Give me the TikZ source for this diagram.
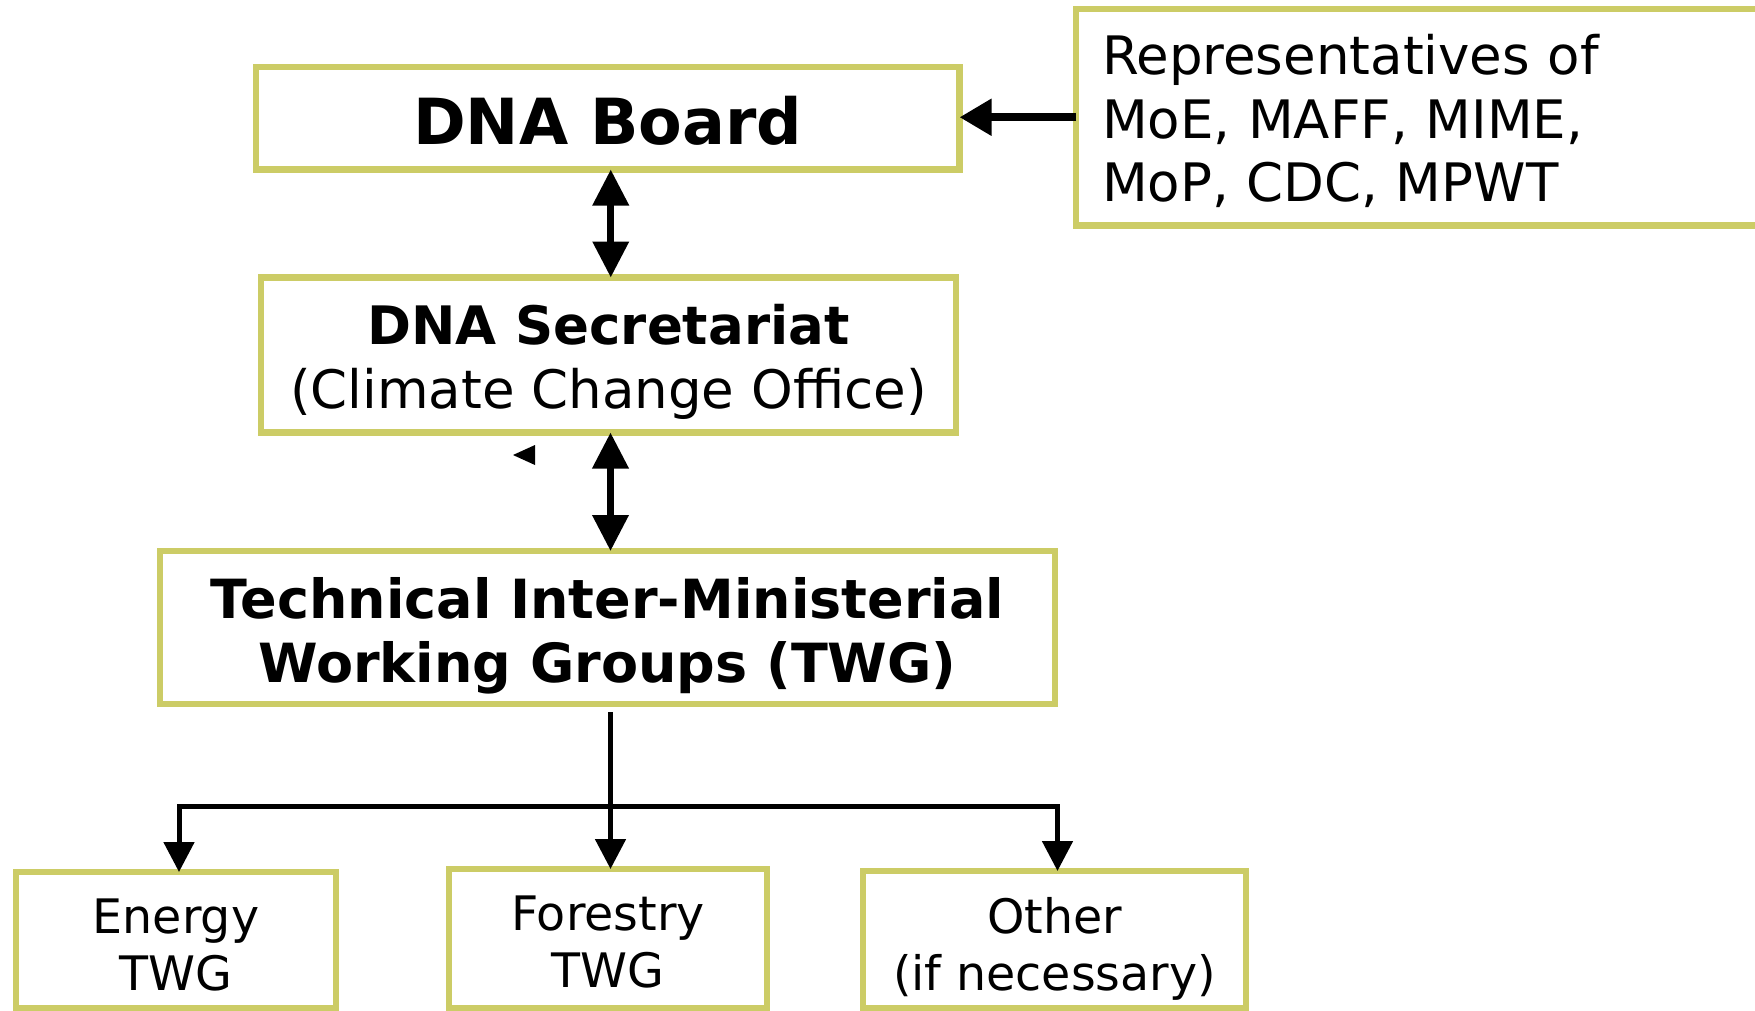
\documentclass[tikz,border=0pt]{standalone}
\usepackage{fontspec}
\setmainfont{DejaVu Sans}
\usepackage{tikz}
\usetikzlibrary{arrows.meta,calc}

\definecolor{boxline}{RGB}{204,204,102}

\tikzset{
  orgbox/.style={draw=boxline, line width=3.25pt, inner sep=0pt, outer sep=0pt, anchor=north west, align=center},
  bigfont/.style={font=\fontsize{31.8}{38}\selectfont\bfseries},
  midfont/.style={font=\fontsize{26.5}{31.75}\selectfont},
  midbold/.style={font=\fontsize{27}{32}\selectfont\bfseries},
  smallfont/.style={font=\fontsize{23.75}{28.5}\selectfont},
  link/.style={line width=3.5pt, {Triangle[width=17.5pt,length=18pt]}-{Triangle[width=17.5pt,length=18pt]}},
  feed/.style={line width=4pt, -{Triangle[width=17.5pt,length=16pt]}},
  branch/.style={line width=2.5pt},
  branchtip/.style={-{Triangle[width=15pt,length=15pt]}},
  branchtips/.style={{Triangle[width=15pt,length=15pt]}-{Triangle[width=15pt,length=15pt]}}
}

\begin{document}
\begin{tikzpicture}[x=0.5pt,y=-0.5pt]
\useasboundingbox (0,0) rectangle (1755,1011);

% boxes
\node[orgbox, bigfont, minimum width=351.75pt, minimum height=51.25pt, text height=26.75pt, text depth=0pt] (board) at (256,67) {DNA Board};
\node[orgbox, midfont, inner xsep=13pt, align=left, text width=340pt, minimum width=366pt, minimum height=108.25pt, text height=20pt, text depth=62.25pt] (reps) at (1076,9) {Representatives of\\MoE, MAFF, MIME,\\MoP, CDC, MPWT};
\node[orgbox, midfont, minimum width=347.5pt, minimum height=77.5pt, text height=53pt, text depth=0pt] (sec) at (261,277.5) {\textbf{DNA Secretariat}\\(Climate Change Office)};
\node[orgbox, midbold, minimum width=447.5pt, minimum height=76.5pt, text height=54.5pt, text depth=0pt] (twg) at (160,551) {Technical Inter-Ministerial\\Working Groups (TWG)};
\node[orgbox, smallfont, minimum width=160pt, minimum height=68pt, text height=50pt, text depth=0pt] (energy) at (16,872) {Energy\\TWG};
\node[orgbox, smallfont, minimum width=159pt, minimum height=69.5pt, text height=48.5pt, text depth=0pt] (forestry) at (449,869) {Forestry\\TWG};
\node[orgbox, smallfont, minimum width=191.5pt, minimum height=68.5pt, text height=50.5pt, text depth=0pt] (other) at (863,871) {Other\\(if necessary)};

% links
\draw[feed] (reps.west) -- (reps.west -| board.east);
\draw[link] ([xshift=1.5pt]board.south) -- ([xshift=1.5pt]board.south |- sec.north);
\draw[link] ([xshift=1pt]sec.south) -- ([xshift=1pt]sec.south |- twg.north);
\fill (513,455) -- (535,445) -- (535,465) -- cycle;

% working groups
\coordinate (twgout) at ($(twg.south)+(3,8)$);
\coordinate (bus) at ($(twg.south)+(3,102.5)$);
\draw[branch,branchtip] (twgout) -- (twgout |- forestry.north);
\draw[branch,branchtips] ([xshift=1.5pt]energy.north) |- (bus) -| ([xshift=1.5pt]other.north);
\end{tikzpicture}
\end{document}
